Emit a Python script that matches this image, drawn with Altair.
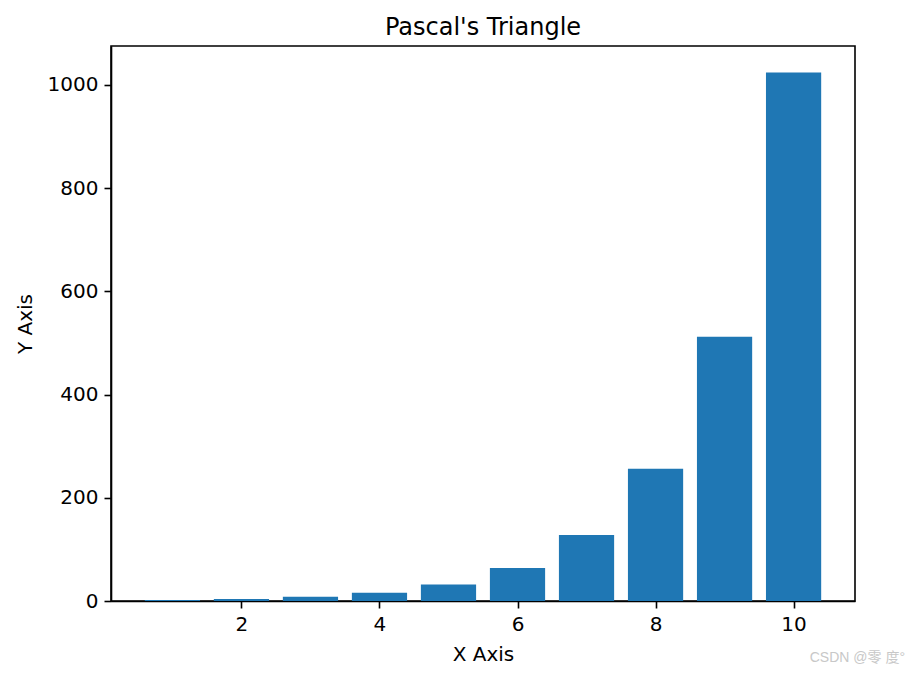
import altair as alt
import pandas as pd

rows = [1, 2, 3, 4, 5, 6, 7, 8, 9, 10]
sums = [2, 4, 8, 16, 32, 64, 128, 256, 512, 1024]
x_ticks = [2, 4, 6, 8, 10]
y_ticks = [0, 200, 400, 600, 800, 1000]

df = pd.DataFrame({"row": rows, "sum": sums})

FONT = "DejaVu Sans"

bars = (
    alt.Chart(df)
    .transform_calculate(x0="datum.row - 0.4", x1="datum.row + 0.4")
    .mark_bar(color="#1f77b4")
    .encode(
        x=alt.X(
            "x0:Q",
            scale=alt.Scale(domain=[0.11, 10.89], nice=False, zero=False),
            axis=alt.Axis(values=x_ticks, title="X Axis", format="d", titlePadding=10),
        ),
        x2="x1:Q",
        y=alt.Y(
            "sum:Q",
            scale=alt.Scale(domain=[0, 1075.2], nice=False),
            axis=alt.Axis(values=y_ticks, title="Y Axis", format="d", titlePadding=12),
        ),
        y2=alt.datum(0),
    )
)

wm = pd.DataFrame({"t": ["CSDN @零 度°"]})
watermark = (
    alt.Chart(wm)
    .mark_text(color="#c8c8c8", fontSize=14, font="Liberation Sans, Noto Sans CJK SC",
               align="right", baseline="middle")
    .encode(x=alt.value(794), y=alt.value(612), text="t:N")
)

chart = (
    alt.layer(bars, watermark)
    .properties(
        width=744,
        height=555,
        title=alt.TitleParams("Pascal's Triangle", fontSize=24, font=FONT, fontWeight="normal",
                              offset=6, color="black"),
        padding={"left": 103, "top": 38, "right": 56, "bottom": 68},
        autosize=alt.AutoSizeParams(type="none"),
    )
    .configure_view(stroke="black", strokeWidth=1.6)
    .configure_axis(
        grid=False,
        domainColor="black",
        domainWidth=1.6,
        tickColor="black",
        tickSize=7,
        tickWidth=1.6,
        labelFont=FONT,
        labelFontSize=20,
        labelColor="black",
        labelPadding=6,
        titleFont=FONT,
        titleFontSize=20,
        titleFontWeight="normal",
        titleColor="black",
    )
)

chart.save("out.html", embed_options={"renderer": "svg", "actions": False})
